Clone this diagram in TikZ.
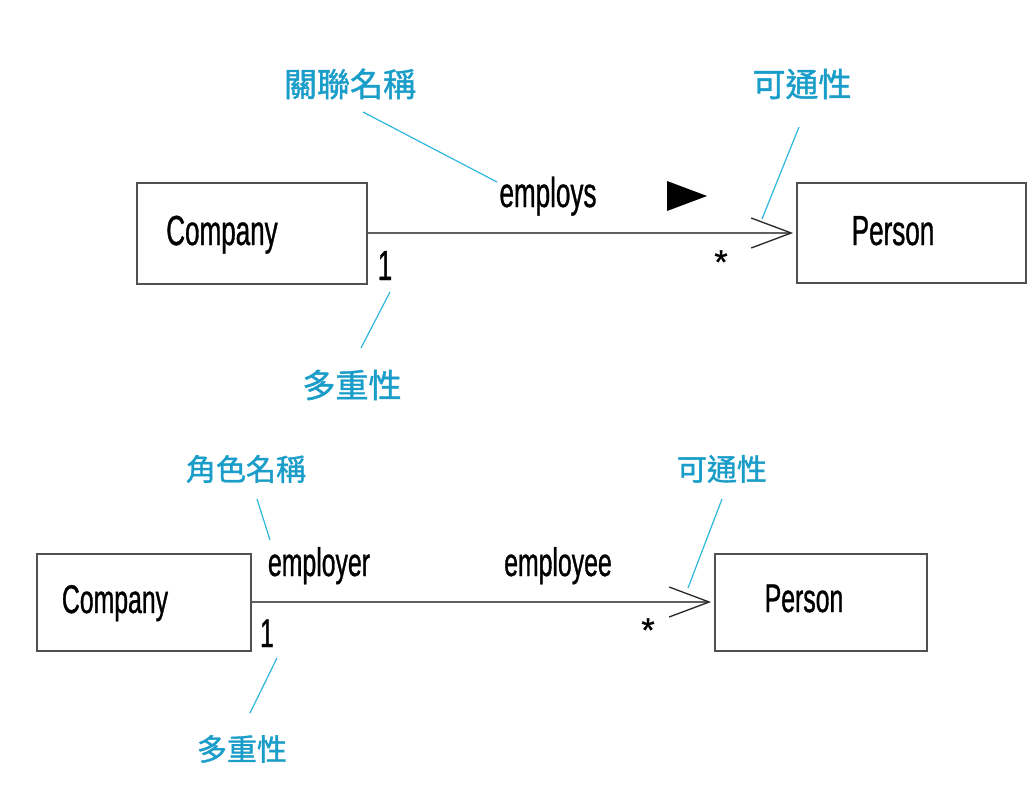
\documentclass[tikz,border=0pt]{standalone}
\usepackage{fontspec}
\usetikzlibrary{arrows.meta}
\newfontfamily\agency[FakeStretch=0.62,FakeBold=0.8]{Liberation Sans}
\newfontfamily\starfont[FakeBold=1]{Liberation Sans}
\newfontfamily\cjk[FakeBold=1.3]{Noto Sans CJK TC}
\definecolor{note}{HTML}{1A9DC8}
\definecolor{leadc}{HTML}{2DB8DC}
\definecolor{boxc}{HTML}{505050}
\begin{document}
\begin{tikzpicture}[x=1pt,y=-1pt,
  classbox/.style={draw=boxc,line width=1.4pt,rectangle,inner sep=0pt},
  cname/.style={font=\agency\fontsize{42}{42}\selectfont,anchor=base,inner sep=0pt},
  cnameb/.style={font=\agency\fontsize{40}{40}\selectfont,anchor=base,inner sep=0pt},
  star/.style={font=\starfont\fontsize{34}{34}\selectfont,anchor=center,inner sep=0pt},
  notea/.style={font=\cjk\fontsize{33}{33}\selectfont,text=note,anchor=center,inner sep=0pt},
  noteb/.style={font=\cjk\fontsize{30}{30}\selectfont,text=note,anchor=center,inner sep=0pt},
  leader/.style={draw=leadc,line width=1.2pt},
  assoc/.style={draw=boxc!90,line width=1.4pt},
  barb/.style={-{Straight Barb[length=40pt,width=30pt,line width=1.3pt,color=black!85]}}
]
\useasboundingbox (0,0) rectangle (1036,787);
\fill[white] (0,0) rectangle (1036,787);

% ---------- top diagram ----------
\node[classbox,minimum width=230pt,minimum height=101pt] (compA) at (252,233.5) {};
\node[classbox,minimum width=229pt,minimum height=100pt] (persA) at (911.5,233) {};
\node[cname] (compAt) at (222,245) {Company};
\node[cname] (persAt) at (893,245) {Person};
\coordinate (tipA) at (793,233);
\draw[assoc,barb] (compA.east |- tipA) -- (tipA);
\node[cname] (employs) at (548,207) {employs};
\fill[black] (667,181) -- (707,196) -- (667,211) -- cycle;
\node[cname] (oneA) at (385,280) {1};
\node[star] (starA) at (721,262) {*};

\node[notea] (assocname) at (350,84) {關聯名稱};
\node[notea] (multA) at (352,385) {多重性};
\node[notea] (navA) at (802,84) {可通性};
\coordinate (l1a) at (363,112); \coordinate (l1b) at (497,182);
\coordinate (l2a) at (390,292); \coordinate (l2b) at (361,348);
\coordinate (l3a) at (799,127); \coordinate (l3b) at (762,219);
\draw[leader] (l1a) -- (l1b);
\draw[leader] (l2a) -- (l2b);
\draw[leader] (l3a) -- (l3b);

% ---------- bottom diagram ----------
\node[classbox,minimum width=214pt,minimum height=97pt] (compB) at (144,602.5) {};
\node[classbox,minimum width=212pt,minimum height=97pt] (persB) at (821,602.5) {};
\node[cnameb] (compBt) at (115,613) {Company};
\node[cnameb] (persBt) at (804,612) {Person};
\coordinate (tipB) at (711,602);
\draw[assoc,barb] (compB.east |- tipB) -- (tipB);
\node[cnameb] (employer) at (319,576) {employer};
\node[cnameb] (employee) at (558,576) {employee};
\node[cnameb] (oneB) at (267,647) {1};
\node[star] (starB) at (648,630) {*};

\node[noteb] (rolename) at (246,469) {角色名稱};
\node[noteb] (multB) at (242,749) {多重性};
\node[noteb] (navB) at (722,469) {可通性};
\coordinate (l4a) at (257,499); \coordinate (l4b) at (270,540);
\coordinate (l5a) at (277,658); \coordinate (l5b) at (250,713);
\coordinate (l6a) at (722,499); \coordinate (l6b) at (688,588);
\draw[leader] (l4a) -- (l4b);
\draw[leader] (l5a) -- (l5b);
\draw[leader] (l6a) -- (l6b);
\end{tikzpicture}
\end{document}
